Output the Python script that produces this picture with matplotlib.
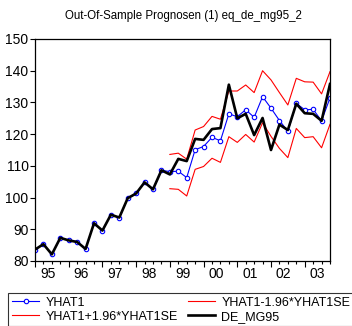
import numpy as np
from matplotlib import pyplot as plt

plt.rcParams['font.family'] = ['Liberation Sans', 'DejaVu Sans']

# Quarterly data 1995Q1 - 2003Q4
years = ['95', '96', '97', '98', '99', '00', '01', '02', '03']

de_mg95 = [83.6, 85.3, 82.1, 87.3, 86.5, 86.0, 83.8, 91.9, 89.6, 94.6,
           93.7, 99.8, 101.3, 104.8, 102.6, 108.6, 107.3, 112.2, 111.5, 118.5,
           118.2, 121.6, 121.9, 135.6, 125.0, 126.4, 119.7, 125.1, 115.0, 123.0,
           121.3, 129.6, 126.6, 126.4, 124.2, 135.8]

# fitted values in sample, forecast from 1999Q1
yhat1 = [83.6, 85.3, 82.1, 87.3, 86.5, 86.0, 83.8, 91.9, 89.6, 94.6,
         93.7, 99.8, 101.3, 104.8, 102.6, 108.6, 108.2, 108.3, 106.3, 115.1,
         116.1, 119.0, 117.9, 126.4, 125.5, 127.7, 125.3, 131.8, 128.2, 124.3,
         120.9, 129.7, 127.7, 127.8, 124.2, 131.4]

# confidence bands (forecast period only)
upper = [113.6, 114.0, 112.1, 121.3, 122.4, 125.6, 124.7, 133.6, 133.6, 135.5,
         133.1, 140.0, 137.1, 133.1, 129.2, 137.6, 136.5, 136.4, 132.7, 139.7]
lower = [102.8, 102.6, 100.5, 108.9, 109.8, 112.4, 111.1, 119.2, 117.4, 119.9,
         117.5, 123.6, 119.3, 115.5, 112.6, 121.8, 118.9, 119.2, 115.7, 123.1]

t = np.arange(len(de_mg95))
t_fc = t[len(t) - len(upper):]

fig = plt.figure(figsize=(3.52, 3.26), dpi=100)
ax = fig.add_axes([35/352, 65/326, 295/352, 222/326])

ax.plot(t, yhat1, color='#0000ff', lw=0.8, marker='o', ms=3.2,
        mfc='white', mec='#0000ff', mew=0.8, label='YHAT1')
ax.plot(t_fc, upper, color='#ff0000', lw=0.8, label='YHAT1+1.96*YHAT1SE')
ax.plot(t_fc, lower, color='#ff0000', lw=0.8, label='YHAT1-1.96*YHAT1SE')
ax.plot(t, de_mg95, color='black', lw=1.9, label='DE_MG95')

ax.set_xlim(0, 35)
ax.set_ylim(80, 150)
ax.set_yticks(np.arange(80, 151, 10))
ax.tick_params(axis='y', direction='out', length=3.6, width=0.8, pad=1,
               labelsize=10)

# year boundaries (long ticks) and quarters (short ticks)
ax.set_xticks(np.arange(0, 36, 4), labels=[''] * 9)
ax.set_xticks(t, minor=True)
ax.tick_params(axis='x', which='major', direction='out', length=4.5, width=0.8)
ax.tick_params(axis='x', which='minor', direction='out', length=2.3, width=0.8)

# year labels centred on each year
sec = ax.secondary_xaxis('bottom')
sec.set_xticks(np.arange(len(years)) * 4 + 1.5, labels=years)
sec.tick_params(length=0, pad=4, labelsize=10)
sec.spines['bottom'].set_visible(False)

for s in ax.spines.values():
    s.set_linewidth(0.9)

fig.text(183.5/352, 1 - 16/326, 'Out-Of-Sample Prognosen (1) eq_de_mg95_2',
         ha='center', va='center', fontsize=8.3)

h, l = ax.get_legend_handles_labels()
leg = fig.legend(h, l, loc='upper left', bbox_to_anchor=(8/352, 1 - 293/326),
                 ncol=2, fontsize=9, frameon=True, fancybox=False,
                 edgecolor='black', borderaxespad=0, handlelength=2.2,
                 handletextpad=0.5, columnspacing=0.8, labelspacing=0.15,
                 borderpad=0.3)
leg.get_frame().set_linewidth(0.8)

fig.savefig('out.png', dpi=100)
